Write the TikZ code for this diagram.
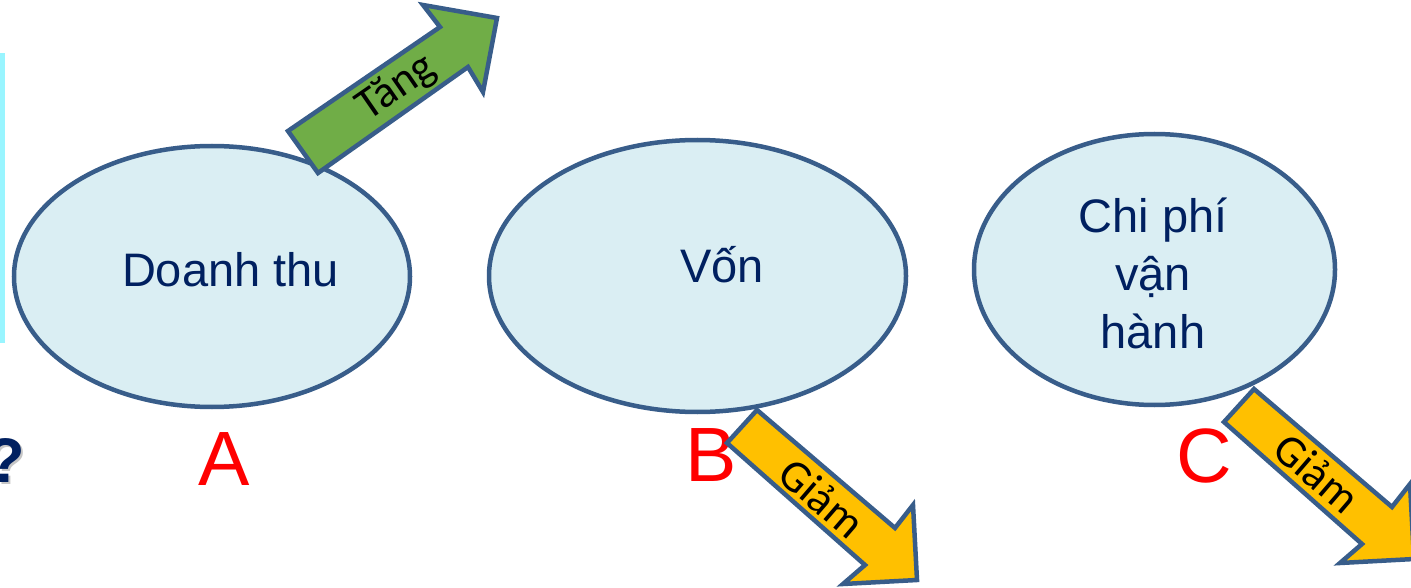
\documentclass[tikz,border=0pt]{standalone}
\usepackage{fontspec}
\setmainfont{Liberation Sans}
\newfontfamily\calfont{Carlito}
\usetikzlibrary{shapes.geometric}
\definecolor{ellfill}{RGB}{218,238,243}
\definecolor{edgeblue}{RGB}{56,93,138}
\definecolor{navy}{RGB}{0,32,96}
\definecolor{upgreen}{RGB}{112,173,71}
\definecolor{downorange}{RGB}{255,192,0}
\definecolor{cyanbar}{RGB}{153,245,255}
\tikzset{
  ell/.style={ellipse, draw=edgeblue, fill=ellfill, line width=4.5pt, inner sep=0pt},
  elltext/.style={text=navy, font=\fontsize{47}{58}\selectfont, inner sep=0pt, align=center},
  letter/.style={text=red, font=\fontsize{77}{80}\selectfont, inner sep=0pt, anchor=base},
  arrowbody/.style={draw=edgeblue, line width=4.5pt, line join=miter},
  arrowtext/.style={text=black, font=\calfont\fontsize{45}{47}\selectfont, inner sep=0pt}
}
\begin{document}
\begin{tikzpicture}[x=1pt,y=-1pt]
\useasboundingbox (0,0) rectangle (1411,588);
\fill[white] (0,0) rectangle (1411,588);
% cyan bar at left
\fill[cyanbar] (0,53) rectangle (5,343);
% question mark with shadow
\node[text=gray!45, font=\bfseries\fontsize{63}{66}\selectfont, inner sep=0pt, anchor=base] (qs) at (8,484) {?};
\node[text=navy, font=\bfseries\fontsize{63}{66}\selectfont, inner sep=0pt, anchor=base] (q) at (6,482) {?};
% ellipses
\node[ell, minimum width=396pt, minimum height=261pt] (A) at (212,276.5) {};
\node[ell, minimum width=417pt, minimum height=272pt] (B) at (697.5,276) {};
\node[ell, minimum width=361pt, minimum height=271pt] (C) at (1154.5,269.5) {};
% ellipse texts
\node[elltext, anchor=base] (At) at (230.5,287) {Doanh thu};
\node[elltext, anchor=base] (Bt) at (722,283) {Vốn};
\node[elltext] (Ct) at (1153,273) {Chi phí\\vận\\hành};
% letters
\node[letter] (LA) at (224,485) {A};
\node[letter] (LB) at (711,481) {B};
\node[letter] (LC) at (1204,482) {C};
% green arrow (Tang)
\draw[arrowbody, fill=upgreen] (318,173) -- (288,131) -- (440,27) -- (423,5) -- (497,18) -- (483,92) -- (468,67) -- cycle;
\node[arrowtext, rotate=34.6] (tang) at (397,88) {Tăng};
% orange arrow B (Giam)
\draw[arrowbody, fill=downorange] (757,410) -- (727,443) -- (865,565) -- (843,584) -- (917,580) -- (913,505) -- (895,528) -- cycle;
\node[arrowtext, rotate=-40.8] (giamB) at (822,498) {Giảm};
% orange arrow C (Giam)
\draw[arrowbody, fill=downorange] (1254,389) -- (1224,422) -- (1362,544) -- (1340,563) -- (1414,559) -- (1410,484) -- (1392,507) -- cycle;
\node[arrowtext, rotate=-40.8] (giamC) at (1317,473) {Giảm};
\end{tikzpicture}
\end{document}
